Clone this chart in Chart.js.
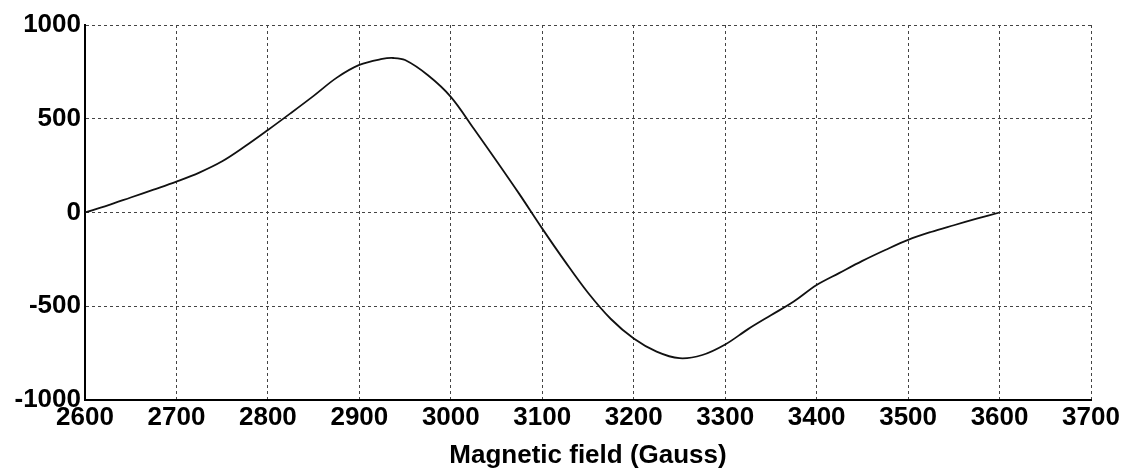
<!DOCTYPE html>
<html>
<head>
<meta charset="utf-8">
<script src="https://cdn.jsdelivr.net/npm/chart.js@4/dist/chart.umd.min.js"></script>
<style>
  html, body { margin: 0; padding: 0; background: #fff; }
  #wrap { width: 1125px; height: 471px; position: relative; }
</style>
</head>
<body>
<div id="wrap"><canvas id="esrChart"></canvas></div>
<script>
// Data (field in Gauss, signal in a.u.)
const fieldGauss = [2600, 2625, 2650, 2675, 2700, 2725, 2750, 2775, 2800, 2825, 2850, 2875, 2900, 2925, 2937, 2950, 2975,
                    3000, 3025, 3050, 3075, 3100, 3125, 3150, 3175, 3200, 3225, 3250, 3275, 3300, 3325, 3350, 3375,
                    3400, 3425, 3450, 3475, 3500, 3525, 3550, 3575, 3600];
const signal = [0, 38, 80, 122, 165, 213, 273, 353, 440, 530, 622, 718, 787, 819, 824, 813, 732,
                617, 448, 275, 98, -86, -262, -428, -568, -672, -742, -777, -760, -704, -622, -548, -475,
                -387, -322, -258, -200, -146, -104, -68, -33, 0];
const xTicks = [2600, 2700, 2800, 2900, 3000, 3100, 3200, 3300, 3400, 3500, 3600, 3700];
const yTicks = [-1000, -500, 0, 500, 1000];

const FONT = { family: "'Liberation Sans', Arial, sans-serif", size: 26, weight: 'bold' };

function initChart() {
    const ctx = document.getElementById('esrChart').getContext('2d');
    new Chart(ctx, {
        type: 'line',
        data: {
            datasets: [{
                data: fieldGauss.map((x, i) => ({ x: x, y: signal[i] })),
                borderColor: '#111',
                borderWidth: 1.8,
                pointRadius: 0,
                tension: 0.35,
                fill: false
            }]
        },
        options: {
            responsive: true,
            maintainAspectRatio: false,
            animation: false,
            layout: { padding: { left: 0, right: 34, top: 25, bottom: 0 } },
            plugins: { legend: { display: false }, tooltip: { enabled: false } },
            scales: {
                x: {
                    type: 'linear',
                    min: 2600, max: 3700,
                    afterBuildTicks: (s) => { s.ticks = xTicks.map(v => ({ value: v })); },
                    ticks: { color: '#000', font: FONT, padding: 2, maxRotation: 0, callback: (v) => String(v) },
                    grid: { color: '#444', lineWidth: 1, drawTicks: false },
                    border: { display: true, color: '#000', width: 2, dash: [3, 3] },
                    title: { display: true, text: 'Magnetic field (Gauss)', color: '#000', font: FONT, padding: { top: 10, bottom: 0 } },
                    afterFit: (s) => { s.height = 71; }
                },
                y: {
                    min: -1000, max: 1000,
                    afterBuildTicks: (s) => { s.ticks = yTicks.map(v => ({ value: v })); },
                    ticks: { color: '#000', font: FONT, padding: 4, callback: (v) => String(v) },
                    grid: { color: '#444', lineWidth: 1, drawTicks: false },
                    border: { display: true, color: '#000', width: 2, dash: [3, 3] },
                    afterFit: (s) => { s.width = 85; }
                }
            }
        }
    });
}

document.addEventListener('DOMContentLoaded', initChart);
</script>
</body>
</html>
